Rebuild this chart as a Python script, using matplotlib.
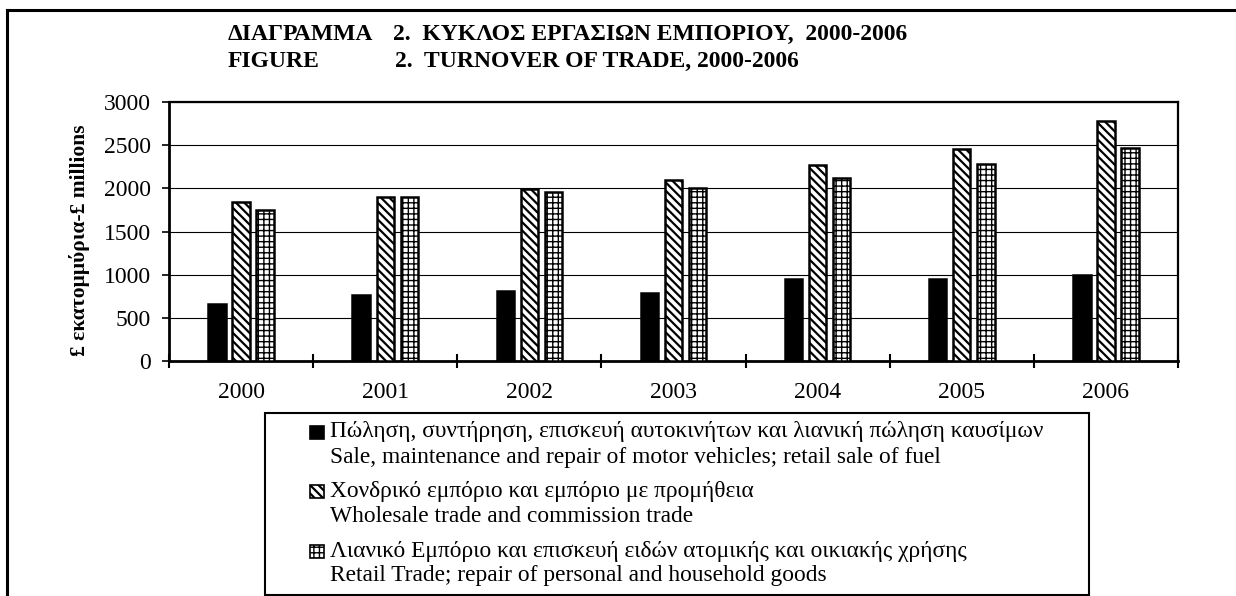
import numpy as np
import matplotlib
matplotlib.use("Agg")
import matplotlib.pyplot as plt
from matplotlib.patches import Rectangle
from matplotlib.lines import Line2D

plt.rcParams['font.family'] = ['Liberation Serif', 'DejaVu Serif']

years = ['2000', '2001', '2002', '2003', '2004', '2005', '2006']
motor = [660, 765, 815, 785, 955, 955, 995]
wholesale = [1845, 1905, 1990, 2095, 2265, 2450, 2785]
retail = [1745, 1905, 1955, 2005, 2120, 2285, 2470]

series = [motor, wholesale, retail]
labels_gr = ['Πώληση, συντήρηση, επισκευή αυτοκινήτων και λιανική πώληση καυσίμων',
             'Χονδρικό εμπόριο και εμπόριο με προμήθεια',
             'Λιανικό Εμπόριο και επισκευή ειδών ατομικής και οικιακής χρήσης']
labels_en = ['Sale, maintenance and repair of motor vehicles; retail sale of fuel',
             'Wholesale trade and commission trade',
             'Retail Trade; repair of personal and household goods']
fills = ['black', 'white', 'white']
hatches = [None, '\\\\\\\\', '+++']
hatch_lw = [1.0, 1.6, 1.0]

W, H = 1236, 596
fig = plt.figure(figsize=(W / 100, H / 100), dpi=100)
ax = fig.add_axes([169 / W, 1 - 361 / H, (1178 - 169) / W, (361 - 102) / H])

x = np.arange(len(years))
offsets = [-0.167, 0, 0.167]
for vals, off, fc, h, hlw in zip(series, offsets, fills, hatches, hatch_lw):
    with plt.rc_context({'hatch.linewidth': hlw}):
        ax.bar(x + off, vals, width=0.12, color=fc, hatch=h,
               edgecolor='black', linewidth=1.8, zorder=3)

ax.set_xlim(-0.5, len(years) - 0.5)
ax.set_ylim(0, 3000)
ax.set_yticks(np.arange(0, 3001, 500))
ax.yaxis.grid(True, color='black', linewidth=0.8, zorder=0)
ax.set_axisbelow(True)

# ticks sit between the year groups, labels in the middle
ax.set_xticks(np.arange(len(years) + 1) - 0.5)
ax.set_xticklabels([])
ax.set_xticks(x, minor=True)
ax.set_xticklabels(years, minor=True)
ax.tick_params(axis='x', which='major', direction='inout', length=10, width=1.5)
ax.tick_params(axis='x', which='minor', length=0, pad=15, labelsize=17)
ax.tick_params(axis='y', direction='out', length=5, width=1.2, pad=8, labelsize=17)

ax.spines['left'].set_linewidth(2)
ax.spines['bottom'].set_linewidth(2)
ax.spines['top'].set_linewidth(1.6)
ax.spines['right'].set_linewidth(1.6)

fig.text(80 / W, 1 - 240 / H, '£ εκατομμύρια-£ millions', rotation=90,
         ha='center', va='center', fontsize=15.5, fontweight='bold')

# title
fig.text(228 / W, 1 - 40 / H, 'ΔΙΑΓΡΑΜΜΑ', fontsize=17, fontweight='bold', va='baseline')
fig.text(393 / W, 1 - 40 / H, '2.  ΚΥΚΛΟΣ ΕΡΓΑΣΙΩΝ ΕΜΠΟΡΙΟΥ,  2000-2006',
         fontsize=17, fontweight='bold', va='baseline')
fig.text(228 / W, 1 - 67 / H, 'FIGURE', fontsize=17, fontweight='bold', va='baseline')
fig.text(395 / W, 1 - 67 / H, '2.  TURNOVER OF TRADE, 2000-2006',
         fontsize=17, fontweight='bold', va='baseline')

# outer frame (only top and left edges are inside the picture)
fig.add_artist(Line2D([7 / W, 7 / W], [0, 1 - 10 / H], color='black', linewidth=2.2,
                      transform=fig.transFigure))
fig.add_artist(Line2D([7 / W, 1], [1 - 10 / H, 1 - 10 / H], color='black', linewidth=2.2,
                      transform=fig.transFigure))

# legend box
fig.add_artist(Rectangle((265 / W, 1 - 595 / H), (1089 - 265) / W, (595 - 413) / H,
                         transform=fig.transFigure, facecolor='white',
                         edgecolor='black', linewidth=1.5))
for i, (g, e, fc, h, hlw) in enumerate(zip(labels_gr, labels_en, fills, hatches, hatch_lw)):
    yc = 432 + i * 59.5
    with plt.rc_context({'hatch.linewidth': hlw}):
        fig.add_artist(Rectangle((310 / W, 1 - (yc + 6.5) / H), 14 / W, 13 / H,
                                 transform=fig.transFigure, facecolor=fc, hatch=h,
                                 edgecolor='black', linewidth=1.2))
    fig.text(330 / W, 1 - yc / H, g, fontsize=16.8, va='center')
    fig.text(330 / W, 1 - (yc + 25) / H, e, fontsize=16.8, va='center')

fig.savefig('out.png', dpi=100)
